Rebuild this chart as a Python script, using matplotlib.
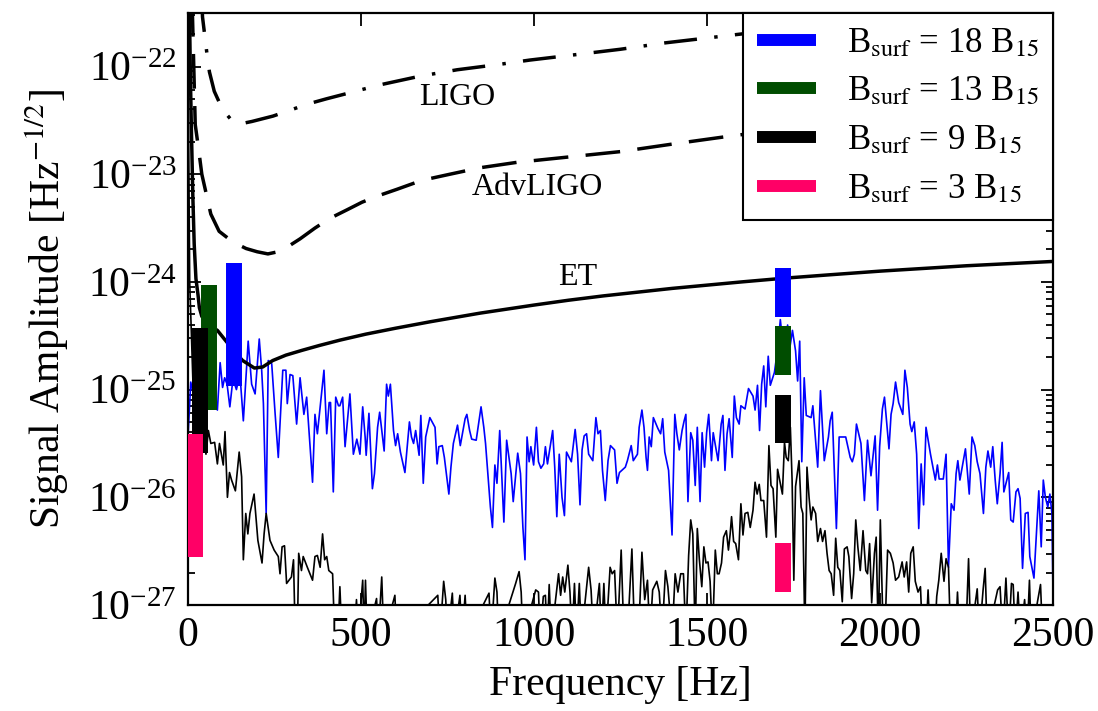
import numpy as np
import matplotlib
matplotlib.use("Agg")
import matplotlib.pyplot as plt
from matplotlib.ticker import LogLocator, NullFormatter

plt.rcParams["font.family"] = "serif"
plt.rcParams["font.serif"] = ["Liberation Serif", "DejaVu Serif"]
plt.rcParams["mathtext.fontset"] = "stix"

# detector sensitivity curves: frequency [Hz] and log10 amplitude
ligo_f = [38, 42, 54, 62, 76, 100, 129, 155, 185, 246, 300, 344, 400, 460, 555, 670,
          778, 900, 988, 1120, 1249, 1380, 1514, 1700, 2000, 2500]
ligo_e = [-21.2, -21.54, -21.86, -22.05, -22.23, -22.40, -22.51, -22.53, -22.51,
          -22.46, -22.40, -22.35, -22.30, -22.25, -22.17, -22.09, -22.03, -21.98,
          -21.94, -21.89, -21.84, -21.78, -21.73, -21.66, -21.57, -21.44]

adv_f = [12, 21, 30, 40, 66, 90, 130, 168, 200, 231, 260, 290, 324, 367, 410, 460,
         503, 550, 604, 656, 700, 757, 844, 950, 1100, 1250, 1400, 1580, 1800, 2000,
         2250, 2500]
adv_e = [-21.4, -22.54, -22.75, -23.0, -23.37, -23.53, -23.63, -23.69, -23.72, -23.74,
         -23.72, -23.67, -23.60, -23.50, -23.41, -23.33, -23.26, -23.20, -23.14,
         -23.08, -23.04, -23.0, -22.94, -22.89, -22.84, -22.79, -22.72, -22.64,
         -22.56, -22.5, -22.45, -22.4]

et_f = [4, 7, 10, 14, 18, 23, 29, 33, 40, 60, 85, 110, 135, 158, 192, 216, 245,
        283, 330, 380, 440, 514, 600, 700, 844, 1000, 1100, 1200, 1300, 1400, 1500,
        1600, 1725, 1850, 2000, 2125, 2250, 2375, 2500]
et_e = [-21.4, -22.1, -22.6, -23.2, -23.65, -23.97, -24.12, -24.24, -24.32, -24.40,
        -24.45, -24.55, -24.65, -24.73, -24.80, -24.79, -24.73, -24.68, -24.635,
        -24.59, -24.54, -24.485, -24.43, -24.37, -24.29, -24.215, -24.17, -24.13,
        -24.095, -24.06, -24.03, -24.0, -23.965, -23.935, -23.9, -23.875, -23.85,
        -23.83, -23.81]

# signal spectra (B_surf = 18 B15 in blue, lower field in black)
blue_f = [1, 8, 20, 35, 50, 65, 85, 93, 100, 106, 113, 121, 130, 140, 150, 160, 174,
          184, 194, 206, 213, 218, 226, 232, 242, 252, 261, 274, 283, 287, 295, 303,
          314, 324, 335, 343, 360, 367, 374, 393, 401, 408, 412, 420, 427, 435, 439,
          447, 454, 468, 478, 488, 497, 505, 512, 515, 523, 533, 539, 548, 554, 567,
          574, 579, 585, 594, 600, 606, 614, 627, 640, 646, 652, 658, 668, 673, 680,
          687, 693, 699, 714, 720, 725, 735, 741, 754, 760, 767, 779, 787, 801, 806,
          814, 820, 833, 847, 855, 860, 874, 880, 887, 893, 901, 913, 921, 934, 940,
          953, 961, 968, 974, 980, 986, 991, 999, 1007, 1013, 1020, 1028, 1033, 1039,
          1054, 1060, 1066, 1073, 1081, 1088, 1094, 1108, 1119, 1126, 1133, 1139,
          1145, 1152, 1158, 1170, 1179, 1185, 1192, 1198, 1206, 1214, 1221, 1233,
          1240, 1247, 1264, 1270, 1281, 1287, 1299, 1304, 1312, 1318, 1324, 1328,
          1333, 1339, 1345, 1358, 1366, 1372, 1378, 1389, 1399, 1407, 1413, 1420,
          1428, 1434, 1439, 1445, 1453, 1459, 1466, 1472, 1480, 1486, 1493, 1499,
          1505, 1513, 1518, 1532, 1541, 1546, 1552, 1558, 1564, 1573, 1579, 1585,
          1593, 1598, 1610, 1620, 1633, 1639, 1646, 1652, 1658, 1664, 1670, 1677,
          1683, 1695, 1705, 1712, 1720, 1727, 1733, 1740, 1747, 1756, 1762, 1768,
          1774, 1781, 1787, 1801, 1806, 1820, 1828, 1839, 1851, 1856, 1862, 1874,
          1882, 1901, 1914, 1920, 1926, 1932, 1945, 1955, 1964, 1970, 1974, 1986,
          1993, 1999, 2007, 2013, 2026, 2032, 2038, 2045, 2054, 2066, 2072, 2079,
          2087, 2092, 2099, 2106, 2112, 2119, 2126, 2133, 2146, 2160, 2166, 2171,
          2183, 2191, 2198, 2206, 2214, 2220, 2225, 2231, 2247, 2258, 2266, 2274,
          2281, 2289, 2299, 2306, 2312, 2320, 2326, 2333, 2339, 2347, 2353, 2358,
          2372, 2378, 2385, 2393, 2399, 2405, 2412, 2420, 2428, 2433, 2445, 2459,
          2466, 2472, 2478, 2485, 2491, 2497, 2500]
blue_e = [-25.38, -24.93, -25.1, -24.95, -25.2, -25.0, -25.19, -24.75, -24.98, -24.89,
          -24.95, -25.16, -24.9, -25.0, -24.85, -25.29, -24.55, -24.95, -25.04,
          -24.53, -24.82, -25.13, -26.15, -24.73, -24.76, -25.23, -25.63, -24.82,
          -24.82, -25.13, -24.86, -24.87, -25.32, -24.89, -25.23, -25.07, -25.86,
          -25.23, -25.41, -24.82, -25.41, -25.12, -25.12, -25.95, -25.07, -25.15,
          -25.15, -25.07, -25.53, -25.04, -25.60, -25.46, -25.60, -25.16, -25.44,
          -25.61, -25.22, -25.92, -25.78, -25.35, -25.21, -25.57, -24.95, -25.06,
          -24.95, -25.38, -25.52, -25.41, -25.58, -25.77, -25.30, -25.44, -25.50,
          -25.38, -25.61, -25.24, -25.87, -25.44, -25.35, -25.26, -25.35, -25.69,
          -25.53, -25.52, -25.63, -25.97, -25.72, -25.50, -25.33, -25.52, -25.27,
          -25.23, -25.38, -25.46, -25.47, -25.16, -25.35, -25.50, -26.09, -26.28,
          -25.70, -25.87, -25.38, -26.23, -25.47, -25.78, -26.04, -25.59, -25.78,
          -26.28, -26.58, -25.44, -25.67, -25.53, -25.70, -25.35, -25.67, -25.73,
          -25.69, -25.53, -25.69, -25.38, -25.72, -26.18, -25.60, -26.00, -26.17,
          -25.58, -25.67, -25.37, -25.60, -26.07, -25.56, -25.43, -25.41, -25.60,
          -25.66, -25.26, -25.41, -25.38, -25.75, -26.03, -25.66, -25.52, -25.56,
          -25.87, -25.77, -25.72, -25.66, -25.52, -25.66, -25.60, -25.35, -25.19,
          -25.35, -25.63, -25.75, -25.44, -25.53, -25.26, -25.36, -25.41, -25.27,
          -25.58, -25.75, -26.35, -25.23, -25.41, -25.56, -25.38, -25.29, -25.23,
          -26.04, -25.40, -25.47, -25.89, -25.35, -26.04, -25.40, -25.72, -25.40,
          -25.23, -25.66, -25.40, -25.66, -25.32, -25.24, -25.75, -25.41, -25.27,
          -25.63, -25.06, -25.26, -25.32, -25.15, -25.18, -24.99, -25.06, -25.19,
          -24.96, -25.38, -24.95, -24.78, -25.16, -24.69, -24.96, -24.84, -24.6,
          -24.35, -24.6, -24.8, -24.4, -24.6, -24.45, -24.64, -24.92, -24.55, -25.67,
          -24.89, -25.24, -25.26, -25.15, -25.72, -25.01, -25.66, -25.44, -25.29,
          -25.21, -26.29, -25.44, -25.44, -25.63, -25.67, -25.60, -25.32, -25.50,
          -26.03, -25.47, -25.67, -25.80, -25.43, -26.12, -25.53, -25.18, -25.07,
          -25.55, -25.23, -25.13, -24.93, -25.12, -25.23, -24.82, -24.98, -25.32,
          -25.39, -25.30, -25.60, -26.29, -25.69, -26.07, -25.35, -25.60, -25.84,
          -25.70, -25.83, -25.83, -25.60, -26.65, -26.06, -26.12, -25.78, -25.66,
          -25.84, -25.55, -25.97, -25.44, -25.52, -25.67, -25.78, -26.15, -25.72,
          -25.57, -25.72, -25.53, -25.84, -26.06, -25.78, -25.49, -25.95, -25.77,
          -26.21, -26.23, -25.95, -25.92, -26.01, -26.66, -26.15, -26.14, -26.55,
          -26.75, -25.94, -26.46, -25.84, -26.00, -26.09, -25.97, -26.15, -26.89]

black_f = [0, 5, 15, 30, 45, 52, 59, 66, 77, 85, 91, 102, 107, 114, 120, 126, 137,
           148, 155, 160, 167, 173, 179, 191, 202, 214, 220, 226, 237, 249, 261, 266,
           272, 279, 285, 299, 305, 310, 316, 320, 328, 333, 345, 360, 367, 374, 382,
           389, 395, 401, 407, 418, 424, 433, 439, 445, 480, 487, 492, 505, 509, 513,
           518, 545, 550, 560, 566, 598, 603, 722, 728, 739, 745, 750, 764, 770, 786,
           792, 801, 807, 870, 876, 887, 893, 898, 947, 957, 963, 968, 1005, 1013,
           1018, 1027, 1033, 1038, 1044, 1050, 1071, 1077, 1083, 1089, 1098, 1104,
           1110, 1117, 1123, 1131, 1137, 1150, 1158, 1165, 1172, 1189, 1195, 1202,
           1208, 1220, 1226, 1233, 1241, 1252, 1260, 1270, 1283, 1291, 1302, 1312,
           1320, 1328, 1335, 1343, 1355, 1362, 1370, 1380, 1387, 1399, 1408, 1416,
           1424, 1432, 1439, 1447, 1453, 1459, 1466, 1472, 1478, 1485, 1491, 1497,
           1503, 1509, 1516, 1524, 1530, 1535, 1542, 1548, 1556, 1562, 1567, 1571,
           1577, 1583, 1591, 1598, 1604, 1610, 1618, 1625, 1633, 1639, 1645, 1651,
           1656, 1664, 1672, 1679, 1685, 1691, 1699, 1704, 1710, 1718, 1724, 1729,
           1735, 1741, 1746, 1751, 1756, 1761, 1766, 1772, 1777, 1783, 1789, 1795,
           1801, 1806, 1814, 1820, 1828, 1834, 1841, 1847, 1853, 1859, 1866, 1872,
           1878, 1884, 1891, 1897, 1905, 1910, 1918, 1924, 1930, 1936, 1943, 1951,
           1959, 1964, 1970, 1976, 1984, 1989, 1995, 2001, 2007, 2014, 2022, 2030,
           2038, 2045, 2054, 2064, 2070, 2077, 2083, 2089, 2096, 2102, 2110, 2117,
           2123, 2133, 2139, 2145, 2158, 2164, 2170, 2177, 2185, 2191, 2198, 2204,
           2218, 2224, 2230, 2248, 2256, 2262, 2281, 2287, 2298, 2304, 2310, 2340,
           2347, 2355, 2364, 2372, 2380, 2385, 2391, 2399, 2406, 2418, 2425, 2432,
           2437, 2464, 2470, 2500]
black_e = [-21.8, -24.0, -25.0, -25.3, -25.45, -25.60, -25.38, -25.50, -25.49, -25.69,
           -25.50, -25.70, -25.39, -26.00, -25.77, -25.84, -25.94, -25.58, -25.81,
           -26.58, -26.15, -26.34, -26.15, -25.97, -26.40, -26.61, -26.34, -26.15,
           -26.40, -26.49, -26.55, -26.71, -26.46, -26.45, -26.80, -26.74, -26.58,
           -27.3, -27.3, -26.52, -26.68, -26.55, -26.65, -26.77, -26.55, -26.54,
           -26.65, -26.34, -26.58, -26.55, -26.68, -26.71, -27.3, -27.3, -26.83,
           -27.3, -27.3, -26.95, -27.3, -26.77, -27.3, -26.77, -27.3, -26.94, -27.3,
           -26.74, -27.3, -26.91, -27.3, -26.91, -27.3, -26.78, -26.95, -27.3,
           -26.89, -27.3, -26.91, -27.3, -26.91, -27.3, -26.89, -27.3, -26.75,
           -26.88, -27.3, -26.80, -26.69, -26.88, -27.3, -26.86, -26.88, -27.3,
           -26.92, -26.91, -27.3, -26.81, -27.3, -26.71, -26.91, -26.74, -26.88,
           -26.63, -26.88, -27.3, -26.80, -27.3, -26.80, -27.3, -26.9, -26.65,
           -26.86, -27.3, -26.80, -27.3, -26.80, -27.3, -26.65, -26.71, -26.68,
           -27.3, -26.49, -27.3, -27.3, -26.48, -27.3, -27.3, -26.51, -26.95,
           -26.77, -27.3, -26.86, -26.78, -26.88, -27.3, -26.68, -26.83, -27.3,
           -26.71, -26.88, -26.71, -26.71, -27.3, -26.54, -26.21, -26.34, -27.3,
           -26.29, -26.58, -26.83, -26.46, -26.61, -26.60, -26.78, -27.3, -26.49,
           -26.71, -26.71, -26.61, -26.37, -26.31, -26.49, -26.34, -26.18, -26.41,
           -26.43, -26.58, -26.06, -26.35, -26.15, -26.14, -26.28, -26.12, -25.86,
           -25.97, -25.88, -26.03, -26.03, -26.37, -25.52, -25.89, -25.92, -26.37,
           -25.74, -25.84, -25.97, -25.49, -25.63, -25.66, -25.35, -25.84, -26.77,
           -25.90, -25.78, -25.66, -26.09, -26.15, -27.3, -25.72, -26.0, -26.21,
           -26.09, -26.15, -26.41, -26.29, -26.41, -26.31, -26.52, -26.68, -26.71,
           -26.91, -26.38, -26.65, -26.68, -26.97, -26.48, -26.46, -26.55, -26.94,
           -26.71, -26.21, -26.46, -26.68, -26.31, -26.68, -26.71, -26.43, -26.98,
           -26.52, -26.37, -27.3, -26.21, -26.98, -27.3, -26.49, -26.52, -26.61,
           -26.77, -26.74, -26.60, -26.74, -26.60, -26.88, -26.52, -26.46, -26.78,
           -26.88, -26.83, -27.3, -27.3, -26.86, -27.3, -27.3, -26.92, -26.77,
           -26.52, -26.78, -26.57, -26.65, -27.3, -27.3, -26.88, -27.3, -27.3,
           -26.57, -27.3, -26.85, -27.3, -26.86, -26.66, -27.3, -26.86, -26.83,
           -27.3, -26.75, -27.3, -26.80, -26.81, -27.3, -26.88, -27.3, -26.95,
           -27.3, -26.77, -27.3, -26.81, -27.3, -27.3]

# expected signal ranges for each surface field (bottom, top amplitudes)
field_labels = [r"B$_{\rm surf}$ = 18 B$_{15}$", r"B$_{\rm surf}$ = 13 B$_{15}$",
                r"B$_{\rm surf}$ = 9 B$_{15}$", r"B$_{\rm surf}$ = 3 B$_{15}$"]
field_colors = ["#0000ff", "#004d00", "#000000", "#ff0066"]
low_freq = [133, 61, 35, 20]
low_range = [(1.07e-25, 1.5e-24), (6.5e-26, 9.4e-25), (2.6e-26, 3.7e-25), (2.8e-27, 3.9e-26)]
high_freq = [1720, 1720, 1720, 1720]
high_range = [(4.7e-25, 1.35e-24), (1.38e-25, 3.9e-25), (3.2e-26, 9.0e-26), (1.32e-27, 3.75e-27)]

x_ticks = [0, 500, 1000, 1500, 2000, 2500]
y_ticks = [1e-27, 1e-26, 1e-25, 1e-24, 1e-23, 1e-22]

fig = plt.figure(figsize=(10.98, 7.11), dpi=100)
ax = fig.add_axes([0.1712, 0.1491, 0.7878, 0.8326])

ax.plot(blue_f, 10.0 ** np.array(blue_e), color="#0000ff", lw=1.2, zorder=2)
ax.plot(black_f, 10.0 ** np.array(black_e), color="black", lw=1.2, zorder=2)

ax.plot(ligo_f, 10.0 ** np.array(ligo_e), color="black", lw=2.5,
        dashes=(9.5, 5, 1, 5), zorder=3)
ax.plot(adv_f, 10.0 ** np.array(adv_e), color="black", lw=2.5,
        dashes=(10, 5), zorder=3)
ax.plot(et_f, 10.0 ** np.array(et_e), color="black", lw=2.5, zorder=3)

handles = []
for lab, col, f1, r1, f2, r2 in zip(field_labels, field_colors, low_freq, low_range,
                                     high_freq, high_range):
    h, = ax.plot([f1, f1], r1, color=col, lw=11.5, solid_capstyle="butt",
                 label=lab, zorder=4)
    ax.plot([f2, f2], r2, color=col, lw=11.5, solid_capstyle="butt", zorder=4)
    handles.append(h)

ax.text(777, 5.2e-23, "LIGO", fontsize=23, ha="center", va="center")
ax.text(1011, 7.6e-24, "AdvLIGO", fontsize=23, ha="center", va="center")
ax.text(1127, 1.1e-24, "ET", fontsize=23, ha="center", va="center")

ax.set_yscale("log")
ax.set_xlim(0, 2500)
ax.set_ylim(1e-27, 3.14e-22)
ax.set_xticks(x_ticks)
ax.set_yticks(y_ticks)
ax.yaxis.set_minor_locator(LogLocator(base=10, subs=np.arange(2, 10)))
ax.yaxis.set_minor_formatter(NullFormatter())
ax.set_xlabel("Frequency [Hz]", fontsize=30, labelpad=8)
ax.set_ylabel(r"Signal Amplitude [Hz$^{-1/2}$]", fontsize=30, labelpad=12)

ax.tick_params(which="both", direction="in", top=True, right=True, width=1.3)
ax.tick_params(which="major", length=9, labelsize=30, pad=8)
ax.tick_params(which="minor", length=5)
for s in ax.spines.values():
    s.set_linewidth(1.6)

leg = ax.legend(handles=handles, loc="upper right", bbox_to_anchor=(1.0, 1.0),
                borderaxespad=0, fontsize=25, frameon=True, fancybox=False,
                edgecolor="black", framealpha=1, handlelength=1.7,
                labelspacing=0.45, handletextpad=0.9, borderpad=0.4)
leg.get_frame().set_linewidth(1.5)
leg.set_zorder(10)
for line in leg.get_lines():
    line.set_linewidth(8.6)

fig.savefig("out.png", dpi=100)
